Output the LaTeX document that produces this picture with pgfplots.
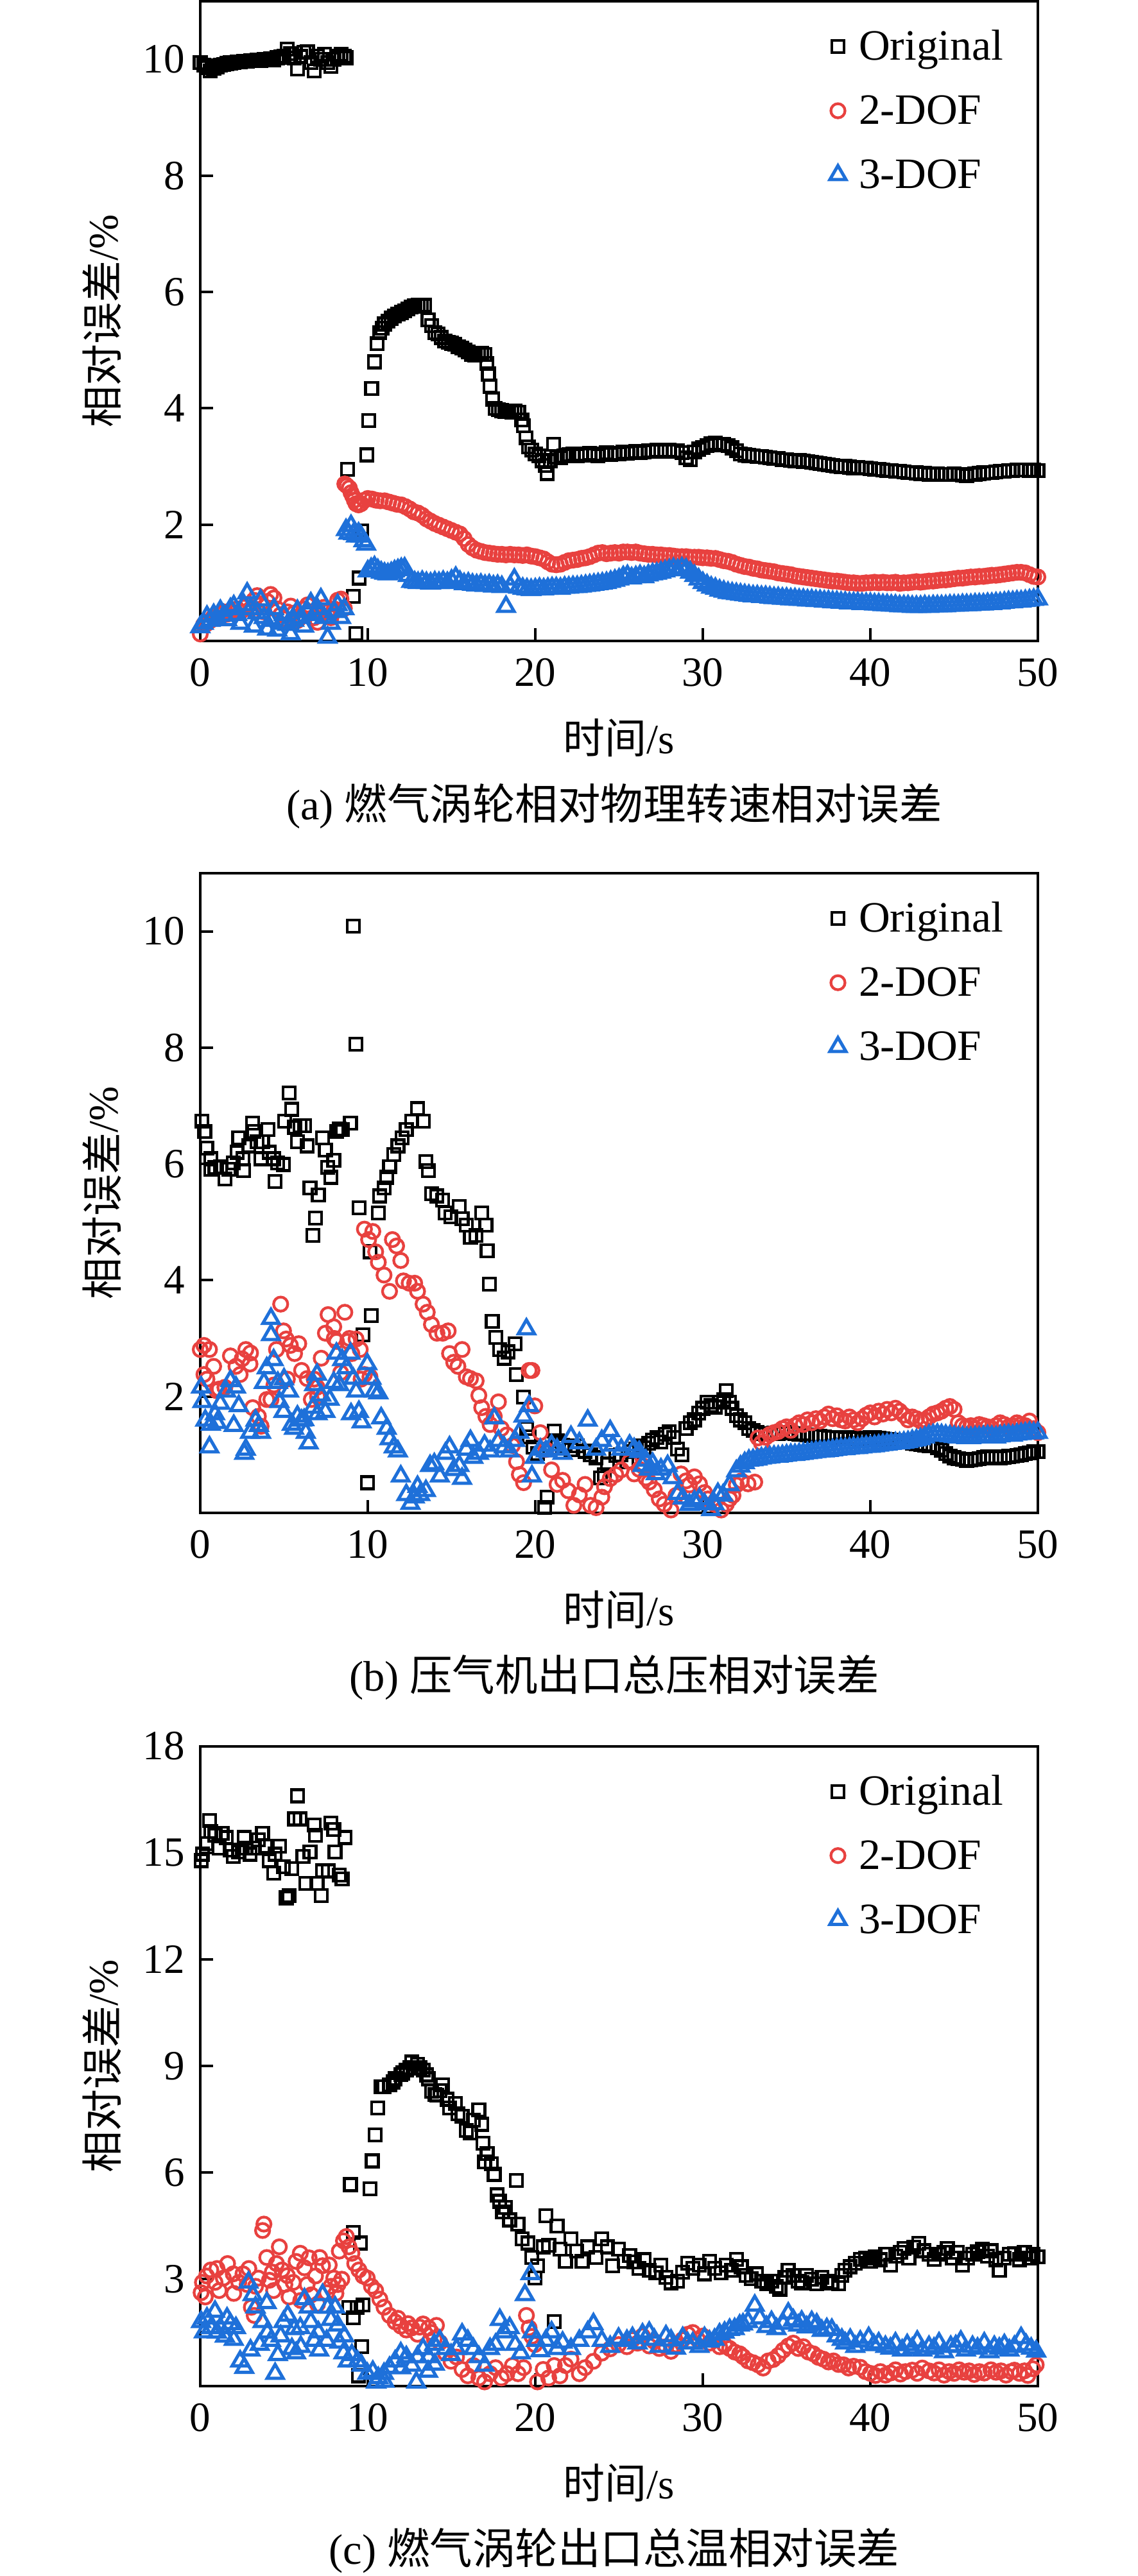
\documentclass[border=0pt]{standalone}
\usepackage{pgfplots}
\pgfplotsset{compat=1.18}
\usepackage{fontspec}
\setmainfont{Liberation Serif}
\newfontfamily\cjk{Noto Sans CJK SC}
\definecolor{cred}{RGB}{232,65,63}
\definecolor{cblue}{RGB}{30,112,217}
\newcommand{\fs}{\fontsize{13}{15}\selectfont}
\pgfplotsset{
  limg/.style={legend image code/.code={\draw[mark repeat=2,mark phase=2,##1] plot coordinates {(0pt,0pt)(4pt,0pt)(8pt,0pt)};}},
  sK/.style={only marks, mark=square, mark size=1.9pt, line width=0.85pt, black, limg},
  sR/.style={only marks, mark=o, mark size=2.2pt, line width=0.85pt, cred, limg},
  sB/.style={only marks, mark=triangle, mark size=2.9pt, line width=1pt, cblue, limg},
  panel/.style={
    scale only axis, width=261pt, height=199.4pt,
    anchor=south west, clip=false,
    xmin=0, xmax=50, ymin=0,
    xtick={0,10,...,50},
    tick align=inside, xtick pos=left, ytick pos=left,
    major tick length=4pt,
    axis line style={line width=0.8pt},
    every tick/.style={line width=0.8pt, black},
    tick label style={font=\fs},
    /pgf/number format/assume math mode=true,
    xticklabel style={yshift=-2pt},
    yticklabel style={xshift=-1.3pt},
    label style={font=\fs},
    xlabel={{\cjk 时间}/s},
    ylabel={{\cjk 相对误差}/\%},
    xlabel style={at={(axis description cs:0.5,-0.1515)}, anchor=center},
    ylabel style={at={(axis description cs:-0.1172,0.5)}, anchor=center},
    legend style={at={(axis description cs:0.7517,0.963)}, anchor=north west,
      draw=none, fill=none, inner sep=0pt, outer sep=0pt, row sep=6.5pt,
      font=\fontsize{13.5}{15}\selectfont, nodes={inner sep=0pt, text height=11pt, text depth=2.5pt},
      /tikz/every odd column/.append style={column sep=4pt}},
    legend cell align=left,
  },
}
\begin{document}
\begin{tikzpicture}
\useasboundingbox (0,0) rectangle (354.4pt,-803pt);
% ---------------- (a)
\begin{axis}[panel, name=pa, at={(62.4pt,-199.8pt)}, ymax=11, ytick={2,4,6,8,10}]
\addplot[sK] coordinates {
(0,9.95)(0.2,9.9)(0.4,9.86)(0.6,9.8)(0.8,9.85)(1.0,9.87)(1.2,9.9)(1.4,9.91)(1.6,9.93)(1.8,9.94)(2.0,9.95)(2.2,9.96)(2.4,9.96)(2.6,9.97)(2.8,9.97)(3.0,9.98)(3.2,9.98)(3.4,9.99)(3.6,9.98)(3.8,10.0)(4.0,10.0)(4.2,10.01)(4.4,9.99)(4.6,10.03)(4.8,10.04)(5.0,10.06)(5.2,10.18)(5.4,10.1)(5.6,10.02)(5.8,9.84)(6.0,10.05)(6.2,10.12)(6.4,10.13)(6.6,9.95)(6.8,9.8)(7.0,10.06)(7.2,10.0)(7.4,10.09)(7.6,9.95)(7.8,9.88)(8.0,10.0)(8.2,10.05)(8.4,10.09)(8.6,10.06)(8.7,10.03)
(8.8,2.95)(9.13,0.77)(9.28,0.13)(9.47,1.08)(9.63,1.89)(9.93,3.2)(10.06,3.79)(10.23,4.34)(10.4,4.8)(10.55,5.11)(10.7,5.3)(10.85,5.38)
(11.0,5.45)(11.2,5.5)(11.4,5.55)(11.6,5.59)(11.8,5.62)(12.0,5.65)(12.2,5.68)(12.4,5.71)(12.6,5.74)(12.8,5.76)(13.0,5.77)(13.2,5.78)(13.4,5.77)(13.6,5.52)(13.8,5.42)(14.0,5.3)(14.2,5.28)(14.4,5.22)(14.6,5.16)(14.8,5.14)(15.0,5.12)(15.2,5.1)(15.4,5.06)(15.6,5.04)(15.8,5.0)(16.0,4.97)(16.2,4.93)(16.4,4.92)(16.6,4.93)(16.8,4.95)(17.0,4.93)(17.1,4.77)(17.2,4.59)(17.3,4.38)(17.45,4.16)(17.6,4.0)(17.8,3.98)(18.0,3.96)(18.2,3.95)(18.4,3.95)(18.6,3.94)(18.8,3.95)(19.0,3.93)(19.2,3.8)(19.3,3.7)(19.45,3.49)(19.6,3.34)(19.8,3.28)(20.0,3.22)(20.2,3.18)(20.4,3.1)(20.6,3.02)(20.7,2.88)(20.9,3.1)(21.1,3.38)(21.3,3.16)(21.5,3.15)(21.7,3.18)(21.9,3.19)
(22.0,3.2)(22.25,3.21)(22.5,3.19)(22.75,3.22)(23.0,3.2)(23.25,3.23)(23.5,3.21)(23.75,3.18)(24.0,3.22)(24.25,3.24)(24.5,3.21)(24.75,3.23)(25.0,3.22)(25.25,3.25)(25.5,3.23)(25.75,3.24)(26.0,3.26)(26.25,3.24)(26.5,3.25)(26.75,3.27)(27.0,3.26)(27.25,3.28)(27.5,3.27)(27.75,3.26)(28.0,3.28)(28.25,3.26)(28.5,3.27)(28.75,3.24)(29.0,3.15)(29.25,3.12)(29.5,3.25)(29.75,3.3)(30.0,3.33)(30.25,3.36)(30.5,3.39)(30.75,3.4)(31.0,3.37)(31.25,3.38)(31.5,3.36)(31.75,3.32)(32.0,3.27)(32.25,3.22)(32.5,3.2)(32.75,3.19)(33.0,3.18)(33.25,3.17)(33.5,3.17)(33.75,3.16)(34.0,3.15)(34.25,3.14)(34.5,3.14)(34.75,3.12)(35.0,3.12)(35.25,3.11)(35.5,3.1)(35.75,3.1)(36.0,3.09)(36.25,3.08)(36.5,3.07)(36.75,3.06)(37.0,3.05)(37.25,3.04)(37.5,3.03)(37.75,3.02)(38.0,3.01)(38.25,3.0)(38.5,3.0)(38.75,2.99)(39.0,2.98)(39.25,2.98)(39.5,2.97)(39.75,2.97)(40.0,2.96)(40.25,2.95)(40.5,2.95)(40.75,2.94)(41.0,2.93)(41.25,2.93)(41.5,2.92)(41.75,2.92)(42.0,2.91)(42.25,2.9)(42.5,2.9)(42.75,2.89)(43.0,2.88)(43.25,2.88)(43.5,2.87)(43.75,2.87)(44.0,2.87)(44.25,2.86)(44.5,2.86)(44.75,2.86)(45.0,2.87)(45.25,2.86)(45.5,2.85)(45.75,2.84)(46.0,2.86)(46.25,2.87)(46.5,2.88)(46.75,2.89)(47.0,2.9)(47.25,2.9)(47.5,2.91)(47.75,2.92)(48.0,2.92)(48.25,2.93)(48.5,2.93)(48.75,2.94)(49.0,2.94)(49.25,2.94)(49.5,2.93)(49.75,2.94)(50.0,2.93)
};
\addplot[sR] coordinates {
(0,0.12)(0.2,0.28)(0.4,0.3)(0.6,0.35)(0.8,0.42)(1.0,0.4)(1.2,0.45)(1.4,0.5)(1.6,0.46)(1.8,0.52)(2.0,0.48)(2.2,0.55)(2.4,0.5)(2.6,0.58)(2.8,0.62)(3.0,0.55)(3.2,0.7)(3.4,0.78)(3.6,0.62)(3.8,0.5)(4.0,0.68)(4.2,0.8)(4.4,0.74)(4.6,0.55)(4.8,0.45)(5.0,0.38)(5.2,0.5)(5.4,0.6)(5.6,0.48)(5.8,0.35)(6.0,0.42)(6.2,0.55)(6.4,0.62)(6.6,0.5)(6.8,0.4)(7.0,0.32)(7.2,0.45)(7.4,0.58)(7.6,0.5)(7.8,0.4)(8.0,0.55)(8.2,0.7)(8.4,0.72)(8.6,0.56)
(8.63,2.7)(8.75,2.67)(8.9,2.63)(9.0,2.55)(9.1,2.49)(9.2,2.42)(9.3,2.36)(9.45,2.34)(9.6,2.36)(9.8,2.42)(10.0,2.45)(10.25,2.44)(10.5,2.42)(10.75,2.41)(11.0,2.41)(11.25,2.39)(11.5,2.37)(11.75,2.35)(12.0,2.34)(12.25,2.31)(12.5,2.27)(12.75,2.22)(13.0,2.2)(13.25,2.16)(13.5,2.1)(13.75,2.06)(14.0,2.02)(14.25,1.99)(14.5,1.96)(14.75,1.93)(15.0,1.9)(15.25,1.87)(15.5,1.84)(15.75,1.76)(16.0,1.66)(16.25,1.6)(16.5,1.56)(16.75,1.54)(17.0,1.52)(17.25,1.51)(17.5,1.5)(17.75,1.49)(18.0,1.49)(18.25,1.48)(18.5,1.49)(18.75,1.48)(19.0,1.48)(19.25,1.47)(19.5,1.48)(19.75,1.46)(20.0,1.45)(20.25,1.43)(20.5,1.41)(20.75,1.36)(21.0,1.32)(21.25,1.31)(21.5,1.32)(21.75,1.35)(22.0,1.38)(22.25,1.39)(22.5,1.4)(22.75,1.42)(23.0,1.43)(23.25,1.45)(23.5,1.48)(23.75,1.51)(24.0,1.52)(24.25,1.5)(24.5,1.51)(24.75,1.52)(25.0,1.51)(25.25,1.53)(25.5,1.53)(25.75,1.52)(26.0,1.53)(26.25,1.51)(26.5,1.5)(26.75,1.49)(27.0,1.49)(27.25,1.48)(27.5,1.48)(27.75,1.47)(28.0,1.47)(28.25,1.46)(28.5,1.45)(28.75,1.45)(29.0,1.45)(29.25,1.44)(29.5,1.44)(29.75,1.44)(30.0,1.43)(30.25,1.43)(30.5,1.42)(30.75,1.42)(31.0,1.4)(31.25,1.38)(31.5,1.37)(31.75,1.35)(32.0,1.32)(32.25,1.3)(32.5,1.28)(32.75,1.27)(33.0,1.25)(33.25,1.24)(33.5,1.22)(33.75,1.21)(34.0,1.2)(34.25,1.19)(34.5,1.17)(34.75,1.16)(35.0,1.15)(35.25,1.14)(35.5,1.12)(35.75,1.11)(36.0,1.1)(36.25,1.09)(36.5,1.08)(36.75,1.07)(37.0,1.06)(37.25,1.05)(37.5,1.04)(37.75,1.03)(38.0,1.03)(38.25,1.02)(38.5,1.01)(38.75,1.0)(39.0,1.0)(39.25,0.99)(39.5,0.99)(39.75,1.0)(40.0,1.0)(40.25,1.01)(40.5,1.0)(40.75,1.01)(41.0,1.0)(41.25,1.0)(41.5,1.01)(41.75,0.99)(42.0,1.0)(42.25,1.0)(42.5,1.01)(42.75,1.02)(43.0,1.01)(43.25,1.02)(43.5,1.03)(43.75,1.03)(44.0,1.04)(44.25,1.05)(44.5,1.05)(44.75,1.06)(45.0,1.07)(45.25,1.08)(45.5,1.08)(45.75,1.09)(46.0,1.1)(46.25,1.1)(46.5,1.11)(46.75,1.11)(47.0,1.12)(47.25,1.13)(47.5,1.13)(47.75,1.14)(48.0,1.15)(48.25,1.16)(48.5,1.17)(48.75,1.18)(49.0,1.18)(49.25,1.17)(49.5,1.14)(49.75,1.11)(50.0,1.1)
};
\addplot[sB] coordinates {
(0,0.24)(0.2,0.3)(0.4,0.42)(0.6,0.35)(0.8,0.45)(1.0,0.38)(1.2,0.52)(1.4,0.44)(1.6,0.36)(1.8,0.55)(2.0,0.6)(2.2,0.45)(2.4,0.3)(2.6,0.62)(2.8,0.82)(3.0,0.55)(3.2,0.25)(3.4,0.48)(3.6,0.7)(3.8,0.4)(4.0,0.2)(4.2,0.35)(4.4,0.55)(4.6,0.18)(4.8,0.3)(5.0,0.45)(5.2,0.28)(5.4,0.12)(5.6,0.35)(5.8,0.52)(6.0,0.4)(6.2,0.25)(6.4,0.5)(6.6,0.65)(6.8,0.45)(7.0,0.55)(7.2,0.72)(7.4,0.4)(7.6,0.06)(7.8,0.3)(8.0,0.5)(8.2,0.62)(8.4,0.4)(8.6,0.55)
(8.7,1.91)(8.85,1.85)(9.0,1.98)(9.15,1.84)(9.3,1.8)(9.45,1.85)(9.6,1.8)(9.75,1.72)(9.9,1.66)(10.0,1.2)(10.2,1.24)(10.4,1.27)(10.6,1.22)(10.8,1.18)(11.0,1.16)(11.2,1.15)(11.4,1.17)(11.6,1.2)(11.8,1.22)(12.0,1.24)(12.2,1.25)(12.4,1.12)(12.6,1.02)(12.8,1.01)(13.0,1.0)(13.25,1.02)(13.5,1.0)(13.75,0.99)(14.0,1.01)(14.25,1.0)(14.5,1.02)(14.75,1.0)(15.0,1.04)(15.25,1.09)(15.5,1.02)(15.75,0.98)(16.0,0.99)(16.25,0.97)(16.5,0.96)(16.75,0.97)(17.0,0.95)(17.25,0.96)(17.5,0.94)(17.75,0.95)(18.0,0.93)(18.25,0.59)(18.5,0.94)(18.75,1.06)(19.0,0.92)(19.25,0.9)(19.5,0.89)(19.75,0.88)(20.0,0.89)(20.25,0.9)(20.5,0.89)(20.75,0.9)(21.0,0.91)(21.25,0.91)(21.5,0.9)(21.75,0.92)(22.0,0.92)(22.25,0.93)(22.5,0.93)(22.75,0.94)(23.0,0.95)(23.25,0.96)(23.5,0.97)(23.75,0.98)(24.0,0.99)(24.25,1.0)(24.5,1.02)(24.75,1.04)(25.0,1.06)(25.25,1.1)(25.5,1.12)(25.75,1.08)(26.0,1.1)(26.25,1.12)(26.5,1.1)(26.75,1.13)(27.0,1.15)(27.25,1.16)(27.5,1.18)(27.75,1.2)(28.0,1.22)(28.25,1.24)(28.5,1.22)(28.75,1.25)(29.0,1.23)(29.25,1.18)(29.5,1.12)(29.75,1.06)(30.0,1.0)(30.25,0.96)(30.5,0.92)(30.75,0.9)(31.0,0.87)(31.25,0.85)(31.5,0.83)(31.75,0.82)(32.0,0.81)(32.25,0.8)(32.5,0.79)(32.75,0.78)(33.0,0.77)(33.25,0.77)(33.5,0.76)(33.75,0.76)(34.0,0.75)(34.25,0.74)(34.5,0.74)(34.75,0.73)(35.0,0.73)(35.25,0.72)(35.5,0.72)(35.75,0.71)(36.0,0.71)(36.25,0.7)(36.5,0.7)(36.75,0.69)(37.0,0.69)(37.25,0.68)(37.5,0.68)(37.75,0.67)(38.0,0.67)(38.25,0.66)(38.5,0.66)(38.75,0.65)(39.0,0.65)(39.25,0.65)(39.5,0.64)(39.75,0.64)(40.0,0.64)(40.25,0.63)(40.5,0.63)(40.75,0.62)(41.0,0.62)(41.25,0.61)(41.5,0.61)(41.75,0.6)(42.0,0.6)(42.25,0.6)(42.5,0.59)(42.75,0.59)(43.0,0.59)(43.25,0.6)(43.5,0.59)(43.75,0.6)(44.0,0.6)(44.25,0.6)(44.5,0.6)(44.75,0.61)(45.0,0.61)(45.25,0.61)(45.5,0.62)(45.75,0.62)(46.0,0.62)(46.25,0.63)(46.5,0.63)(46.75,0.63)(47.0,0.64)(47.25,0.64)(47.5,0.65)(47.75,0.65)(48.0,0.66)(48.25,0.67)(48.5,0.67)(48.75,0.68)(49.0,0.68)(49.25,0.69)(49.5,0.7)(49.75,0.71)(50.0,0.72)
};
\legend{Original,2-DOF,3-DOF}
\end{axis}
\node[font=\fontsize{13.3}{15}\selectfont] at ([xshift=-1.5pt,yshift=-51.4pt]pa.south) {(a) {\cjk 燃气涡轮相对物理转速相对误差}};
% ---------------- (b)
\begin{axis}[panel, name=pb, at={(62.4pt,-471.6pt)}, ymax=11, ytick={2,4,6,8,10}]
\addplot[sK] coordinates {
(0.1,6.74)(0.27,6.56)(0.38,6.27)(0.63,6.09)(0.63,5.91)(0.88,5.94)(1.2,5.95)(1.47,5.74)(1.7,5.91)(1.97,6.02)(2.2,6.2)(2.3,6.45)(2.55,6.09)(2.6,5.89)(2.9,6.31)(3.13,6.7)(3.2,6.56)(3.38,6.38)(3.63,6.09)(3.72,6.38)(4.05,6.59)(4.13,6.2)(4.38,6.09)(4.47,5.7)(4.63,6.02)(4.97,5.99)(5.05,6.74)(5.3,7.22)(5.47,6.94)(5.63,6.63)(5.8,6.38)(5.97,6.66)(6.22,6.66)(6.38,6.31)(6.55,5.59)(6.72,4.77)(6.88,5.07)(7.05,5.47)(7.3,6.45)(7.47,6.24)(7.6,5.94)(7.8,5.77)(7.97,6.06)(8.13,6.56)(8.3,6.6)(8.47,6.59)(8.97,6.7)(9.13,10.09)(9.3,8.06)(9.47,5.25)(9.72,3.06)(9.97,0.52)(10.13,4.49)(10.22,3.39)(10.63,5.16)(10.72,5.45)(10.97,5.59)(11.13,5.77)(11.3,5.95)(11.55,6.16)(11.8,6.31)(12.05,6.45)(12.3,6.59)(12.63,6.74)(12.97,6.95)(13.3,6.74)(13.47,6.04)(13.63,5.89)(13.8,5.49)(14.13,5.45)(14.47,5.38)(14.63,5.16)(14.97,5.09)(15.47,5.27)(15.63,5.06)(15.88,4.95)(16.13,4.74)(16.47,4.77)(16.8,5.16)(17.05,4.95)(17.13,4.51)(17.27,3.93)(17.43,3.29)(17.63,3.02)(17.88,2.81)(18.13,2.66)(18.38,2.77)(18.8,2.91)(18.88,2.38)(19.3,1.99)(19.47,1.45)(19.63,1.31)(19.88,1.13)(20.13,1.02)(20.55,0.09)(20.72,0.27)(21.13,1.41)(21.3,1.24)(21.63,1.16)(22.13,1.09)(22.5,1.15)(22.97,1.06)(23.3,1.0)(23.63,0.95)(23.9,0.6)(24.13,0.66)(24.3,0.84)(24.8,0.99)(25.1,1.0)(25.47,0.88)
(25.75,1.05)(26.0,1.1)(26.25,1.15)(26.5,1.12)(26.75,1.2)(27.0,1.25)(27.25,1.3)(27.5,1.22)(27.75,1.35)(28.0,1.4)(28.25,1.3)(28.5,1.1)(28.75,1.0)(29.0,1.45)(29.25,1.55)(29.5,1.6)(29.75,1.72)(30.0,1.8)(30.25,1.9)(30.5,1.85)(30.75,1.82)(31.0,1.9)(31.25,1.95)(31.4,2.1)(31.6,1.9)(31.75,1.8)(32.0,1.67)(32.25,1.6)(32.5,1.55)(32.75,1.45)(33.0,1.42)(33.25,1.38)(33.5,1.36)(33.75,1.35)(34.0,1.36)(34.25,1.37)(34.5,1.36)(34.75,1.38)(35.0,1.38)(35.25,1.37)(35.5,1.36)(35.75,1.35)(36.0,1.36)(36.25,1.34)(36.5,1.33)(36.75,1.33)(37.0,1.32)(37.25,1.31)(37.5,1.3)(37.75,1.3)(38.0,1.29)(38.25,1.29)(38.5,1.28)(38.75,1.29)(39.0,1.3)(39.25,1.28)(39.5,1.27)(39.75,1.28)(40.0,1.29)(40.25,1.3)(40.5,1.28)(40.75,1.27)(41.0,1.26)(41.25,1.25)(41.5,1.24)(41.75,1.24)(42.0,1.23)(42.25,1.22)(42.5,1.2)(42.75,1.19)(43.0,1.18)(43.25,1.17)(43.5,1.16)(43.75,1.15)(44.0,1.12)(44.25,1.08)(44.5,1.02)(44.75,0.98)(45.0,0.95)(45.25,0.93)(45.5,0.92)(45.75,0.9)(46.0,0.91)(46.25,0.92)(46.5,0.93)(46.75,0.95)(47.0,0.96)(47.25,0.95)(47.5,0.96)(47.75,0.95)(48.0,0.96)(48.25,0.97)(48.5,0.98)(48.75,0.99)(49.0,1.0)(49.25,1.02)(49.5,1.03)(49.75,1.05)(50.0,1.05)
};
\addplot[sR] coordinates {
(0,2.81)(0.22,2.88)(0.22,2.38)(0.4,2.3)(0.55,2.81)(0.8,2.52)(1.0,2.1)(1.13,2.13)(1.47,2.16)(1.8,2.7)(2.13,2.52)(2.38,2.38)(2.5,2.65)(2.72,2.81)(2.97,2.56)(3.0,2.75)(3.13,1.81)(3.47,1.66)(3.63,1.49)(3.97,1.95)(4.22,1.95)(4.4,2.2)(4.55,2.81)(4.8,3.59)(4.97,3.13)(5.13,2.99)(5.2,2.3)(5.38,2.88)(5.63,2.74)(5.88,2.91)(6.05,2.45)(6.38,2.31)(6.63,1.95)(6.8,2.3)(6.97,2.16)(7.0,2.0)(7.22,2.66)(7.47,3.09)(7.63,3.41)(7.97,3.2)(8.0,3.0)(8.13,2.95)(8.38,2.41)(8.63,3.45)(8.8,2.95)(8.9,3.0)(9.05,2.74)(9.3,2.99)(9.55,2.81)(9.6,2.3)(9.8,2.38)(10.13,2.34)
(9.8,4.88)(10.05,4.7)(10.3,4.84)(10.47,4.49)(10.63,4.31)(10.97,4.09)(11.3,3.81)(11.47,4.7)(11.72,4.59)(11.97,4.34)(12.13,3.99)(12.47,3.95)(12.8,3.95)(12.97,3.81)(13.3,3.59)(13.55,3.45)(13.8,3.24)(14.13,3.09)(14.47,3.09)(14.8,3.13)(14.88,2.74)(15.13,2.59)(15.38,2.52)(15.63,2.81)(15.88,2.34)(16.13,2.31)(16.47,2.27)(16.63,2.02)(16.8,1.81)(17.05,1.66)(17.3,1.52)(17.55,1.66)(17.8,1.91)(17.97,1.45)(18.3,1.34)(18.63,1.16)(18.88,0.88)(19.05,0.66)(19.3,0.52)(19.63,2.45)(19.8,2.45)(19.97,1.84)(20.3,1.38)(20.63,1.09)(20.97,0.74)(21.3,0.49)(21.63,0.56)(21.97,0.38)(22.3,0.13)(22.63,0.31)(22.97,0.49)(23.3,0.13)(23.63,0.09)(23.97,0.27)(24.13,0.45)(24.47,0.59)(24.8,0.66)(25.13,0.74)(25.63,0.88)
(25.9,0.67)(26.2,0.75)(26.4,0.81)(26.6,0.6)(26.8,0.53)(27.1,0.4)(27.4,0.24)(27.7,0.15)(28.1,0.05)(28.4,0.3)(28.7,0.67)(29.0,0.55)(29.2,0.48)(29.5,0.62)(29.8,0.5)(30.1,0.35)(30.3,0.24)(30.7,0.15)(31.1,0.05)(31.4,0.15)(31.6,0.24)(31.8,0.3)(32.0,0.48)(32.3,0.55)(32.7,0.5)(33.1,0.53)(33.3,1.29)(33.5,1.2)(33.75,1.3)(34.0,1.35)(34.25,1.38)(34.5,1.4)(34.75,1.45)(35.0,1.48)(35.25,1.42)(35.5,1.5)(35.75,1.55)(36.0,1.52)(36.25,1.6)(36.5,1.55)(36.75,1.62)(37.0,1.58)(37.25,1.65)(37.5,1.7)(37.75,1.62)(38.0,1.67)(38.25,1.6)(38.5,1.58)(38.75,1.65)(39.0,1.6)(39.25,1.55)(39.5,1.62)(39.75,1.68)(40.0,1.72)(40.25,1.65)(40.5,1.75)(40.75,1.7)(41.0,1.78)(41.25,1.72)(41.5,1.8)(41.75,1.75)(42.0,1.68)(42.25,1.6)(42.5,1.65)(42.75,1.62)(43.0,1.58)(43.25,1.6)(43.5,1.65)(43.75,1.7)(44.0,1.72)(44.25,1.75)(44.5,1.8)(44.75,1.83)(45.0,1.78)(45.25,1.55)(45.5,1.5)(45.75,1.48)(46.0,1.5)(46.25,1.45)(46.5,1.52)(46.75,1.5)(47.0,1.48)(47.25,1.45)(47.5,1.5)(47.75,1.55)(48.0,1.52)(48.25,1.48)(48.5,1.5)(48.75,1.55)(49.0,1.52)(49.25,1.5)(49.5,1.58)(49.75,1.45)(50.0,1.38)
};
\addplot[sB] coordinates {
(0.05,2.16)(0.13,1.91)(0.3,1.59)(0.55,1.13)(0.63,1.52)(0.88,1.7)(1.0,1.55)(1.2,1.88)(1.55,2.09)(1.8,2.27)(2.0,1.5)(2.13,2.16)(2.3,1.84)(2.63,1.02)(2.72,1.09)(2.97,1.38)(3.3,1.59)(3.5,1.5)(3.63,1.38)(3.8,2.24)(3.97,2.49)(4.22,3.06)(4.22,3.34)(4.38,2.63)(4.63,2.24)(4.72,1.91)(4.97,1.74)(5.0,2.3)(5.3,2.09)(5.47,1.52)(5.6,1.45)(5.8,1.66)(6.05,1.59)(6.2,1.6)(6.3,1.38)(6.47,1.2)(6.72,1.81)(6.8,2.2)(6.97,2.38)(7.0,1.7)(7.22,2.02)(7.47,1.74)(7.72,1.95)(7.97,2.24)(8.13,2.74)(8.3,2.2)(8.47,2.63)(8.72,2.49)(8.97,2.74)(9.0,1.7)(9.13,2.31)(9.3,2.09)(9.47,1.74)(9.63,1.56)(9.97,2.56)(10.22,2.31)(10.38,2.09)(10.63,2.06)(10.8,1.63)(11.13,1.45)(11.3,1.27)(11.55,1.13)(11.8,1.06)(11.97,0.63)(12.3,0.31)(12.55,0.16)(12.8,0.27)(12.97,0.45)(13.13,0.31)(13.47,0.38)(13.72,0.81)(13.97,0.84)(14.3,0.63)(14.63,1.02)(14.88,1.13)(15.13,0.74)(15.47,0.81)(15.63,0.59)(15.88,1.09)(16.13,1.24)(16.3,0.95)(16.63,1.02)(16.97,1.16)(17.3,1.06)(17.55,1.63)(17.8,1.24)(18.13,1.13)(18.47,1.06)(18.8,1.24)(19.05,1.38)(19.3,1.66)(19.47,3.16)(19.63,1.84)(19.8,0.63)(19.97,0.95)(20.3,1.09)(20.63,1.06)(20.97,1.16)(21.3,1.09)(21.63,1.02)(22.13,1.31)(22.63,1.2)(23.13,1.59)(23.63,1.09)(23.97,1.24)(24.47,1.41)(24.63,1.16)(25.13,1.09)(25.63,1.16)
(25.9,1.1)(26.2,1.05)(26.4,0.81)(26.6,0.9)(26.8,0.75)(27.0,0.85)(27.2,0.67)(27.5,0.75)(27.9,0.81)(28.2,0.6)(28.5,0.33)(28.8,0.25)(29.2,0.14)(29.5,0.2)(29.8,0.24)(30.1,0.15)(30.5,0.05)(30.7,0.15)(30.9,0.33)(31.2,0.3)(31.6,0.48)(32.0,0.72)(32.25,0.8)(32.5,0.86)(32.75,0.9)(33.0,0.91)(33.25,0.92)(33.5,0.94)(33.75,0.95)(34.0,0.96)(34.25,0.97)(34.5,0.97)(34.75,0.98)(35.0,0.99)(35.25,1.0)(35.5,1.0)(35.75,1.01)(36.0,1.02)(36.25,1.03)(36.5,1.04)(36.75,1.05)(37.0,1.06)(37.25,1.06)(37.5,1.07)(37.75,1.08)(38.0,1.09)(38.25,1.1)(38.5,1.1)(38.75,1.11)(39.0,1.12)(39.25,1.12)(39.5,1.13)(39.75,1.14)(40.0,1.14)(40.25,1.15)(40.5,1.16)(40.75,1.17)(41.0,1.18)(41.25,1.19)(41.5,1.2)(41.75,1.2)(42.0,1.21)(42.25,1.22)(42.5,1.24)(42.75,1.25)(43.0,1.27)(43.25,1.3)(43.5,1.33)(43.75,1.34)(44.0,1.35)(44.25,1.34)(44.5,1.33)(44.75,1.32)(45.0,1.31)(45.25,1.3)(45.5,1.3)(45.75,1.29)(46.0,1.29)(46.25,1.3)(46.5,1.3)(46.75,1.31)(47.0,1.32)(47.25,1.31)(47.5,1.3)(47.75,1.32)(48.0,1.33)(48.25,1.34)(48.5,1.33)(48.75,1.35)(49.0,1.36)(49.25,1.37)(49.5,1.38)(49.75,1.37)(50.0,1.38)
};
\legend{Original,2-DOF,3-DOF}
\end{axis}
\node[font=\fontsize{13.3}{15}\selectfont] at ([xshift=-1.5pt,yshift=-51.4pt]pb.south) {(b) {\cjk 压气机出口总压相对误差}};
% ---------------- (c)
\begin{axis}[panel, name=pc, at={(62.4pt,-743.7pt)}, ymax=18, ytick={3,6,...,18}]
\addplot[sK] coordinates {
(0.05,14.78)(0.13,14.96)(0.38,15.25)(0.55,15.9)(0.63,15.6)(0.88,15.49)(1.13,15.13)(1.3,15.54)(1.55,15.43)(1.8,15.08)(1.97,14.9)(2.3,15.02)(2.63,15.43)(2.72,15.13)(2.97,14.96)(3.22,15.13)(3.47,15.37)(3.72,15.54)(3.88,15.19)(4.13,14.78)(4.38,14.43)(4.47,14.96)(4.72,15.19)(4.97,14.6)(5.13,13.73)(5.3,13.79)(5.47,14.55)(5.63,15.95)(5.8,16.6)(5.97,15.95)(6.13,14.9)(6.3,14.14)(6.55,15.02)(6.8,15.78)(6.88,15.49)(6.97,14.14)(7.22,13.79)(7.3,14.49)(7.63,14.49)(7.8,15.84)(7.97,15.66)(8.05,15.02)(8.3,14.37)(8.47,14.26)(8.63,15.43)
(8.88,2.21)(8.97,5.66)(9.13,1.92)(9.13,4.32)(9.38,2.21)(9.45,0.28)(9.55,4.02)(9.63,1.1)(9.72,2.27)(10.13,5.54)(10.27,6.33)(10.43,7.06)(10.6,7.82)(10.8,8.41)(10.97,8.41)(11.3,8.47)(11.5,8.55)(11.63,8.64)(11.97,8.76)(12.1,8.8)(12.3,8.88)(12.5,8.95)(12.63,9.11)(12.8,8.94)(12.97,9.05)(13.1,8.95)(13.3,8.88)(13.5,8.75)(13.63,8.64)(13.8,8.29)(14.0,8.2)(14.13,8.18)(14.3,8.3)(14.47,8.47)(14.72,8.06)(14.88,7.82)(15.22,7.94)(15.38,7.65)(15.63,7.59)(15.88,7.18)(16.13,7.12)(16.3,7.47)(16.63,7.77)(16.8,7.36)(16.88,6.83)(16.97,6.3)(17.13,6.54)(17.38,6.25)(17.55,5.95)(17.72,5.37)(17.88,5.19)(18.05,4.9)(18.22,5.02)(18.47,4.67)(18.88,5.78)(18.97,4.55)(19.22,4.14)(19.55,4.02)(19.8,3.61)(19.97,3.03)(20.13,3.38)(20.47,3.91)(20.63,4.78)(20.8,3.96)(21.13,1.8)(21.3,4.49)(21.47,3.85)(21.8,3.5)(22.13,4.14)(22.47,3.79)(22.8,3.5)(23.13,3.91)(23.63,3.61)(23.97,4.14)(24.3,3.91)(24.63,3.38)(24.97,3.85)(25.3,3.5)(25.63,3.67)
(25.9,3.48)(26.2,3.3)(26.5,3.55)(26.8,3.25)(27.2,3.18)(27.5,3.4)(27.8,3.05)(28.1,2.9)(28.5,2.95)(28.8,3.2)(29.1,3.45)(29.4,3.3)(29.8,3.4)(30.1,3.15)(30.4,3.5)(30.7,3.3)(31.1,3.18)(31.4,3.4)(31.7,3.25)(32.0,3.56)(32.3,3.35)(32.6,3.1)(32.9,3.02)(33.2,3.15)(33.5,2.95)(33.8,2.87)(34.1,2.95)(34.4,2.8)(34.6,2.72)(34.9,3.05)(35.1,3.25)(35.4,3.1)(35.7,2.95)(35.9,2.9)(36.2,3.1)(36.5,3.0)(36.8,2.87)(37.1,3.05)(37.4,2.95)(37.7,2.9)(38.1,2.87)(38.3,3.1)(38.5,3.25)(38.8,3.35)(39.1,3.45)(39.4,3.56)(39.7,3.6)(40.0,3.5)(40.3,3.63)(40.6,3.55)(40.9,3.7)(41.2,3.4)(41.5,3.65)(41.8,3.75)(42.0,3.86)(42.3,3.6)(42.6,3.9)(42.9,4.01)(43.2,3.8)(43.5,3.7)(43.8,3.56)(44.1,3.7)(44.4,3.75)(44.6,3.86)(44.9,3.6)(45.2,3.75)(45.5,3.4)(45.8,3.6)(46.1,3.7)(46.4,3.78)(46.7,3.85)(47.0,3.65)(47.2,3.8)(47.5,3.55)(47.7,3.25)(48.0,3.6)(48.3,3.7)(48.6,3.71)(48.9,3.55)(49.2,3.75)(49.5,3.6)(49.7,3.7)(50.0,3.63)
};
\addplot[sR] coordinates {
(0.05,2.62)(0.13,2.91)(0.3,2.5)(0.38,3.09)(0.63,3.26)(0.88,2.91)(1.0,3.3)(1.13,2.68)(1.38,3.03)(1.63,3.44)(1.97,3.15)(2.0,2.6)(2.3,2.91)(2.55,3.15)(2.8,2.85)(2.9,3.3)(3.05,2.21)(3.22,1.98)(3.3,2.8)(3.47,3.03)(3.72,4.37)(3.8,4.55)(3.97,3.61)(4.13,2.97)(4.3,3.2)(4.38,2.68)(4.55,3.44)(4.72,3.91)(4.88,3.26)(5.05,2.85)(5.2,3.1)(5.3,2.5)(5.55,2.91)(5.72,3.5)(5.97,3.73)(6.0,2.4)(6.22,3.32)(6.38,2.85)(6.5,3.6)(6.63,2.56)(6.88,3.09)(7.0,2.3)(7.13,3.61)(7.3,3.38)(7.55,2.62)(7.7,3.4)(7.8,2.8)(7.97,3.03)(8.1,2.6)(8.22,2.85)(8.3,3.79)(8.45,3.0)(8.55,4.08)(8.72,4.2)(8.88,3.91)(9.05,3.73)(9.22,3.44)(9.47,3.26)(9.72,3.09)(9.97,3.03)(10.22,2.8)(10.47,2.68)(10.72,2.44)(10.97,2.21)(11.3,1.98)(11.63,1.8)(11.8,1.9)(11.97,1.68)(12.3,1.57)(12.4,1.75)(12.63,1.63)(12.97,1.45)(13.1,1.65)(13.3,1.74)(13.63,1.63)(13.8,1.5)(13.97,1.33)(14.1,1.7)(14.3,1.22)(14.63,0.92)(14.97,0.69)(15.3,0.81)(15.63,0.46)(15.97,0.28)(16.3,0.57)(16.63,0.22)(16.97,0.11)(17.3,0.34)(17.63,0.51)(17.97,0.22)(18.3,0.34)(18.63,0.57)(18.97,0.34)(19.3,0.51)(19.47,1.98)(19.63,1.63)(19.8,1.39)(19.97,1.16)(20.13,0.11)(20.47,0.46)(20.8,0.22)(21.13,0.57)(21.47,0.28)(21.8,0.57)(22.13,0.75)(22.63,0.34)(22.97,0.51)(23.47,0.69)(23.97,0.92)(24.47,1.04)(24.97,1.16)(25.47,1.1)
(25.8,1.3)(26.1,1.2)(26.4,1.4)(26.8,1.12)(27.1,1.25)(27.4,1.05)(27.8,1.1)(28.1,0.97)(28.4,1.15)(28.8,1.3)(29.1,1.45)(29.4,1.5)(29.7,1.3)(30.0,1.4)(30.4,1.2)(30.7,1.28)(31.0,1.1)(31.3,1.15)(31.6,1.05)(31.9,0.95)(32.2,0.9)(32.4,0.82)(32.7,0.7)(33.0,0.65)(33.3,0.59)(33.6,0.5)(33.9,0.7)(34.2,0.74)(34.5,0.85)(34.8,1.0)(35.1,1.12)(35.4,1.2)(35.7,1.05)(36.0,1.1)(36.3,0.95)(36.6,0.9)(36.9,0.8)(37.2,0.75)(37.5,0.67)(37.8,0.7)(38.1,0.6)(38.4,0.59)(38.7,0.5)(39.0,0.55)(39.4,0.52)(39.7,0.4)(40.0,0.35)(40.3,0.29)(40.6,0.4)(40.9,0.3)(41.2,0.36)(41.5,0.45)(41.8,0.33)(42.1,0.4)(42.5,0.44)(42.8,0.35)(43.1,0.5)(43.5,0.42)(43.8,0.36)(44.1,0.45)(44.4,0.3)(44.7,0.4)(45.0,0.35)(45.3,0.45)(45.6,0.38)(45.9,0.42)(46.2,0.32)(46.5,0.4)(46.8,0.36)(47.2,0.45)(47.5,0.38)(47.8,0.42)(48.1,0.3)(48.4,0.4)(48.6,0.44)(48.9,0.35)(49.2,0.42)(49.4,0.29)(49.7,0.48)(49.9,0.59)
};
\addplot[sB] coordinates {
(0.05,1.8)(0.22,1.51)(0.4,1.9)(0.63,1.63)(0.88,2.09)(1.0,1.5)(1.2,1.63)(1.47,1.39)(1.6,1.9)(1.8,1.74)(2.0,1.3)(2.13,1.63)(2.38,0.69)(2.63,0.51)(2.88,2.91)(3.0,1.0)(3.13,2.56)(3.3,2.21)(3.55,1.16)(3.72,1.8)(3.97,2.33)(4.0,1.5)(4.22,1.27)(4.47,0.34)(4.63,0.87)(4.8,1.4)(4.97,1.8)(5.22,1.98)(5.47,1.04)(5.6,1.6)(5.72,0.92)(5.97,1.63)(6.0,1.1)(6.22,2.44)(6.47,2.21)(6.6,1.8)(6.8,1.27)(7.05,1.51)(7.1,1.0)(7.3,2.56)(7.55,1.27)(7.6,2.2)(7.8,1.86)(8.05,2.21)(8.2,1.7)(8.3,1.22)(8.55,0.92)(8.6,1.4)(8.8,0.69)(9.05,0.87)(9.38,0.69)(9.63,0.57)(9.97,0.34)(10.3,0.4)(10.5,0.1)(10.63,0.22)(10.97,0.34)(11.0,0.12)(11.3,0.51)(11.63,0.69)(11.97,0.92)(12.0,0.5)(12.3,0.81)(12.63,0.57)(12.9,0.1)(12.97,0.81)(13.3,1.04)(13.6,0.4)(13.63,0.81)(13.97,1.16)(14.0,0.6)(14.3,1.27)(14.63,1.04)(14.97,0.87)(15.3,1.04)(15.63,1.45)(15.97,1.27)(16.3,1.04)(16.63,0.81)(16.97,0.57)(17.3,1.04)(17.63,1.16)(17.88,1.86)(18.13,1.51)(18.47,1.63)(18.8,1.16)(19.13,0.92)(19.38,2.56)(19.72,3.15)(19.8,1.51)(20.05,1.27)(20.3,0.98)(20.63,1.27)(20.97,1.51)(21.3,1.04)(21.63,1.22)(22.13,1.04)(22.63,1.27)(23.13,1.51)(23.47,1.74)(23.97,1.27)(24.47,1.1)(24.97,1.33)(25.47,1.27)
(25.8,1.35)(26.1,1.2)(26.4,1.45)(26.8,1.5)(27.1,1.3)(27.4,1.1)(27.8,1.4)(28.1,1.28)(28.4,1.05)(28.8,1.35)(29.1,1.2)(29.4,1.2)(29.8,1.1)(30.1,1.35)(30.4,1.25)(30.7,1.3)(31.0,1.45)(31.3,1.5)(31.6,1.58)(31.9,1.6)(32.2,1.7)(32.4,1.73)(32.7,1.8)(33.1,2.26)(33.4,1.9)(33.8,1.66)(34.1,1.8)(34.4,1.6)(34.8,1.75)(35.1,2.04)(35.4,1.85)(35.7,1.7)(35.9,1.81)(36.2,1.65)(36.5,1.8)(36.8,1.73)(37.1,1.55)(37.4,1.6)(37.7,1.58)(38.0,1.4)(38.3,1.3)(38.5,1.2)(38.8,1.3)(39.1,1.1)(39.4,1.25)(39.9,1.35)(40.2,1.15)(40.5,1.2)(40.9,1.1)(41.2,1.05)(41.5,1.2)(41.9,1.0)(42.2,1.15)(42.5,1.05)(42.8,1.25)(43.1,1.0)(43.5,1.1)(43.8,1.05)(44.1,1.2)(44.4,0.95)(44.8,1.1)(45.1,1.12)(45.4,1.25)(45.7,1.0)(46.1,1.1)(46.4,1.05)(46.8,1.2)(47.1,0.95)(47.4,1.1)(47.7,1.05)(48.0,1.15)(48.3,1.0)(48.6,1.1)(49.0,1.35)(49.3,1.15)(49.6,1.05)(49.9,0.97)
};
\legend{Original,2-DOF,3-DOF}
\end{axis}
\node[font=\fontsize{13.3}{15}\selectfont] at ([xshift=-1.5pt,yshift=-51.4pt]pc.south) {(c) {\cjk 燃气涡轮出口总温相对误差}};
\end{tikzpicture}
\end{document}
